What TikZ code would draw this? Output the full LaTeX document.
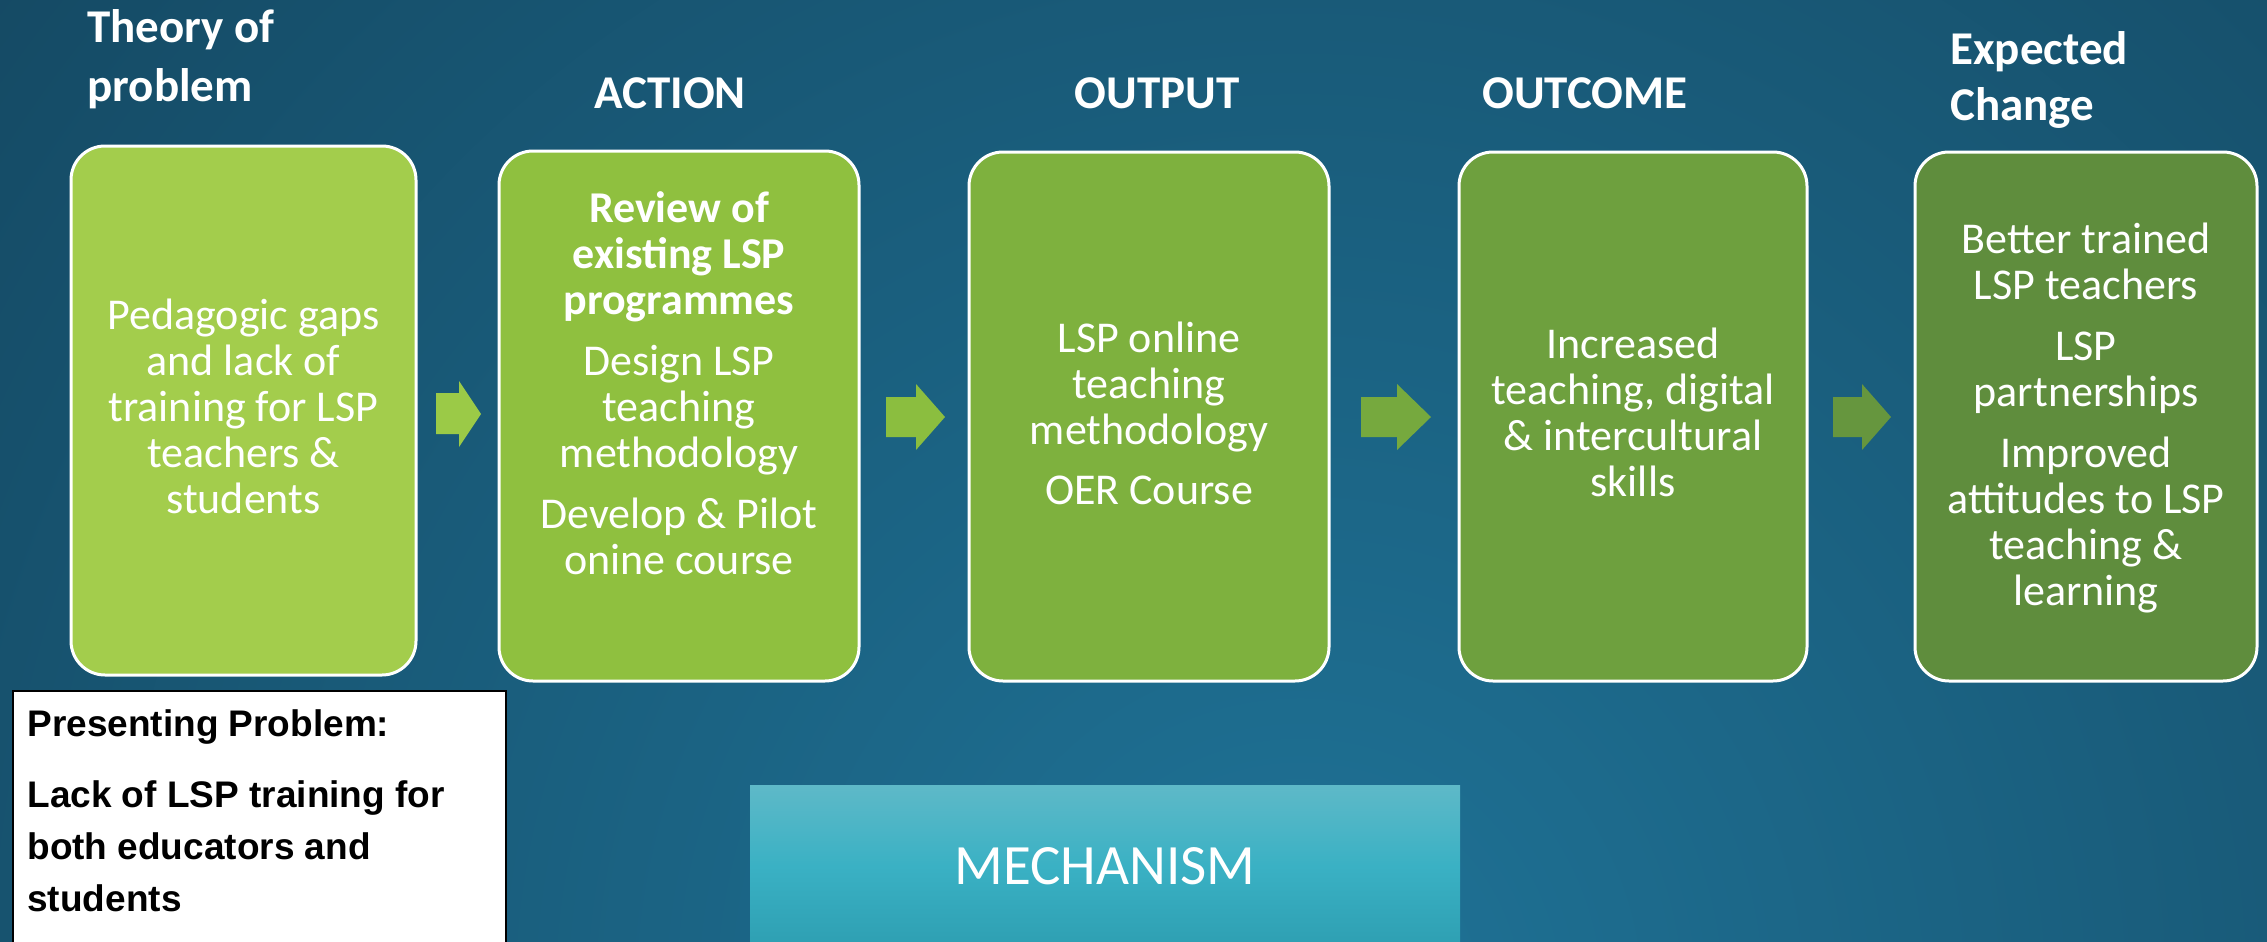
\documentclass[tikz,border=0pt]{standalone}
\usepackage{fontspec}
\setmainfont{Carlito}
\newfontfamily\arialfont{Liberation Sans}
\definecolor{bgin}{HTML}{1F7397}
\definecolor{bgout}{HTML}{10384E}
\definecolor{c1}{HTML}{A3CD4C}
\definecolor{c2}{HTML}{8FC03F}
\definecolor{c3}{HTML}{7EB13E}
\definecolor{c4}{HTML}{6EA03E}
\definecolor{c5}{HTML}{5F8D3D}
\definecolor{a1}{HTML}{9BCA47}
\definecolor{a2}{HTML}{8BBE3F}
\definecolor{a3}{HTML}{76A93E}
\definecolor{a4}{HTML}{66963E}
\definecolor{mtop}{HTML}{5EB9C8}
\definecolor{mmid}{HTML}{3AB1C4}
\definecolor{mbot}{HTML}{2E9FB2}
\pgfdeclareradialshading{bgshade}{\pgfpoint{0bp}{0bp}}{color(0bp)=(bgin); color(33bp)=(bgout); color(50bp)=(bgout)}
\tikzset{
  box/.style={draw=white, line width=1.5pt, rounded corners=17pt, inner sep=0pt},
  bodytxt/.style={text=white, align=center, inner sep=0pt, font=\fontsize{22}{23}\selectfont, anchor=base},
  headtxt/.style={text=white, inner sep=0pt, font=\fontsize{23.5}{29}\selectfont\bfseries, anchor=base}
}
\begin{document}
\begin{tikzpicture}[x=0.5pt,y=0.5pt]
\useasboundingbox (0,0) rectangle (2267,-942);
\clip (0,0) rectangle (2267,-942);
% background
\shade[shading=bgshade] (1300,-1000) circle (1800);

% headers (base = last line)
\node[headtxt, anchor=base west, align=left] (h1) at (87,-101) {Theory of\\[0.5pt]problem};
\node[headtxt] (h2) at (670,-108) {ACTION};
\node[headtxt] (h3) at (1157,-108) {OUTPUT};
\node[headtxt] (h4) at (1585,-108) {OUTCOME};
\node[headtxt, anchor=base west, align=left, font=\fontsize{23.5}{28}\selectfont\bfseries] (h5) at (1950,-120) {Expected\\Change};

% boxes
\node[box, fill=c1, minimum width=172.5pt, minimum height=264.5pt] (b1) at (243.5,-410.5) {};
\node[box, fill=c2, minimum width=180pt, minimum height=265pt] (b2) at (679,-416) {};
\node[box, fill=c3, minimum width=180pt, minimum height=264.5pt] (b3) at (1149,-416.5) {};
\node[box, fill=c4, minimum width=174pt, minimum height=264.5pt] (b4) at (1633,-416.5) {};
\node[box, fill=c5, minimum width=171pt, minimum height=264.5pt] (b5) at (2086,-416.5) {};

% box texts (base = last line)
\node[bodytxt] (t1) at (243.5,-513) {Pedagogic gaps\\and lack of\\training for LSP\\teachers \&\\students};
\node[bodytxt] (t2) at (679,-574) {\textbf{Review of}\\\textbf{existing LSP}\\\textbf{programmes}\\[7.5pt]Design LSP\\teaching\\methodology\\[7.5pt]Develop \& Pilot\\onine course};
\node[bodytxt] (t3) at (1149,-504) {LSP online\\teaching\\methodology\\[7pt]OER Course};
\node[bodytxt] (t4) at (1633,-496) {Increased\\teaching, digital\\\& intercultural\\skills};
\node[bodytxt] (t5) at (2086,-605) {Better trained\\LSP teachers\\[7.5pt]LSP\\partnerships\\[7.5pt]Improved\\attitudes to LSP\\teaching \&\\learning};

% block arrows
\fill[a1] (436,-393) -- (459,-393) -- (459,-381) -- (481,-414) -- (459,-447) -- (459,-434) -- (436,-434) -- cycle;
\fill[a2] (886,-397) -- (916,-397) -- (916,-384) -- (945,-417) -- (916,-450) -- (916,-437) -- (886,-437) -- cycle;
\fill[a3] (1361,-397) -- (1397,-397) -- (1397,-384) -- (1431,-417) -- (1397,-450) -- (1397,-437) -- (1361,-437) -- cycle;
\fill[a4] (1833,-397) -- (1862,-397) -- (1862,-384) -- (1891,-417) -- (1862,-450) -- (1862,-437) -- (1833,-437) -- cycle;

% presenting problem
\node[draw=black, fill=white, line width=1pt, minimum width=246.5pt, minimum height=140pt, anchor=north west, inner sep=0pt] (pp) at (12,-690) {};
\node[anchor=base west, align=left, inner sep=0pt, font=\arialfont\bfseries\fontsize{18.5}{26}\selectfont] (ppt) at (27,-911) {Presenting Problem:\\[9.5pt]Lack of LSP training for\\both educators and\\students};

% mechanism
\node[top color=mtop, bottom color=mbot, middle color=mmid, minimum width=355pt, minimum height=81pt, inner sep=0pt, text=white, font=\fontsize{28.5}{30}\selectfont] (mech) at (1105,-866) {MECHANISM};
\end{tikzpicture}
\end{document}
